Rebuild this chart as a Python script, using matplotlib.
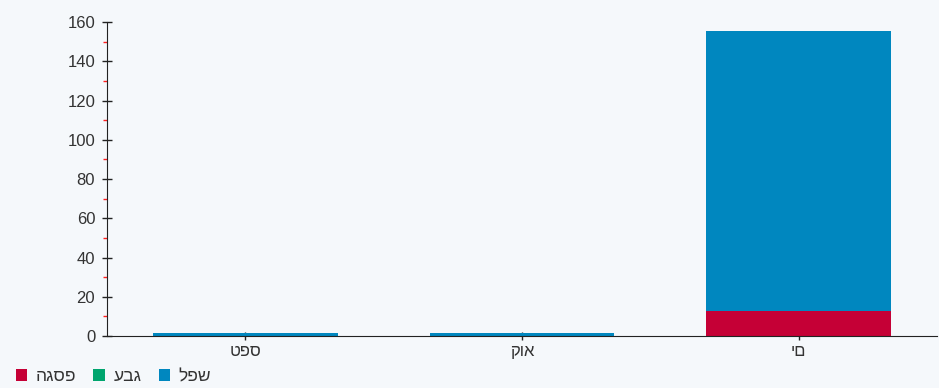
import matplotlib
matplotlib.use("Agg")
import matplotlib.pyplot as plt
from matplotlib.patches import Patch
import numpy as np

plt.rcParams['font.family'] = ['Liberation Sans', 'DejaVu Sans']

categories = ['טפס', 'קוא', 'ים']
peak = [0, 0, 13]          # פסגה
shoulder = [0, 0, 0]       # גבע
offpeak = [1.5, 1.5, 142.5]  # שפל
legend_labels = ['הגספ', 'עבג', 'לפש']
yticks = [0, 20, 40, 60, 80, 100, 120, 140, 160]
yminor = [10, 30, 50, 70, 90, 110, 130, 150]

c_peak = '#C50036'
c_shoulder = '#00A56E'
c_off = '#0087BF'

fig = plt.figure(figsize=(9.39, 3.88), dpi=100)
fig.patch.set_facecolor('#F5F8FB')
ax = fig.add_axes([0.114, 0.134, 0.884, 0.809])
ax.set_facecolor('none')

x = np.arange(len(categories))
w = 0.668
ax.bar(x, peak, w, color=c_peak, zorder=2)
b2 = np.array(peak)
ax.bar(x, shoulder, w, bottom=b2, color=c_shoulder, zorder=2)
b3 = b2 + np.array(shoulder)
ax.bar(x, offpeak, w, bottom=b3, color=c_off, zorder=2)

ax.set_xlim(-0.5, 2.5)
ax.set_ylim(0, 160)
ax.set_yticks(yticks)
ax.set_yticks(yminor, minor=True)
ax.set_xticks(x)
ax.set_xticklabels(categories)

for s in ['top', 'right']:
    ax.spines[s].set_visible(False)
ax.spines['left'].set_color('#222222')
ax.spines['bottom'].set_color('#222222')

ax.tick_params(axis='y', which='major', direction='inout', length=7, width=1,
               color='#222222', labelsize=12, labelcolor='#333333', pad=5)
ax.tick_params(axis='y', which='minor', direction='out', length=3, width=1,
               color='#FF2020')
ax.tick_params(axis='x', which='major', direction='inout', length=6, width=1,
               color='#222222', labelsize=12, labelcolor='#333333', pad=3)

handles = [Patch(facecolor=c, edgecolor='none') for c in (c_peak, c_shoulder, c_off)]
fig.legend(handles, legend_labels, loc='lower left', bbox_to_anchor=(0.0, -0.03),
           ncol=3, frameon=False, fontsize=12.5, handlelength=0.65, handleheight=0.65,
           handletextpad=0.5, columnspacing=1.0, labelcolor='#333333')

fig.savefig('out.png', dpi=100, facecolor=fig.get_facecolor())
